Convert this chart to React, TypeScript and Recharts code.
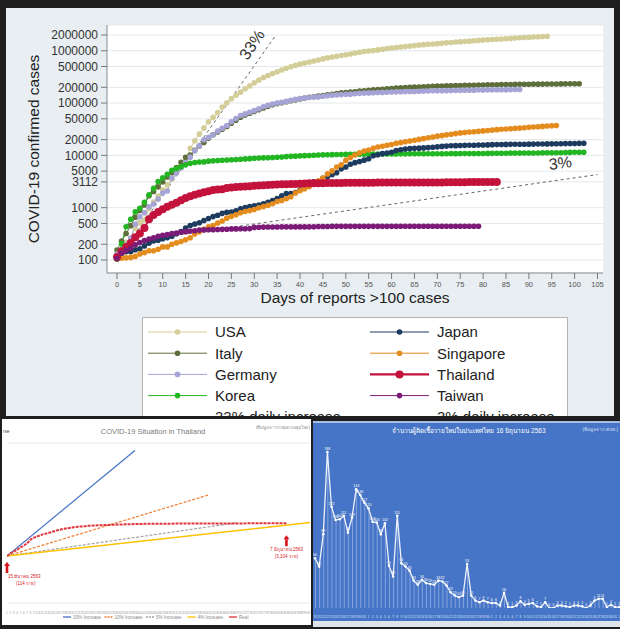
import React from 'react';
import {
  LineChart, Line, XAxis, YAxis, CartesianGrid, Legend, ReferenceDot,
  ComposedChart, Bar, LabelList,
} from 'recharts';

// ---------- Top chart: cumulative confirmed cases (log scale) ----------
const usaCases = [118,149,217,262,402,518,583,959,1281,1663,2179,2726,3499,4632,6421,7786,13680,19101,25493,33276,43847,53740,65778,83836,101657,121478,140886,161807,188172,213242,243622,275367,308850,337072,366667,396223,429052,461437,496535,526396,555313,580619,607670,636350,667801,699706,732197,759086,784326,811865,840351,869170,905333,938154,965785,988197,1012582,1039909,1069424,1103461,1132539,1158040,1180375,1204351,1229331,1257023,1283929,1309550,1329260,1347881,1369376,1390406,1417774,1442824,1467820,1486757,1508308,1528568,1551853,1577147,1600937,1622612,1643499,1662302,1680913,1699176,1721750,1746019,1770165,1790172,1811277,1831821,1851520,1872660,1897380];
const italyCases = [155,229,322,453,655,888,1128,1694,2036,2502,3089,3858,4636,5883,7375,9172,10149,12462,15113,17660,21157,24747,27980,31506,35713,41035,47021,53578,59138,63927,69176,74386,80589,86498,92472,97689,101739,105792,110574,115242,119827,124632,128948,132547,135586,139422,143626,147577,152271,156363,159516,162488,165155,168941,172434,175925,178972,181228,183957,187327,189973,192994,195351,197675,199414,201505,203591,205463,207428,209328,210717,211938,213013,214457,215858,217185,218268,219070,219814,221216,222104,223096,223885,224760,225435,225886,226699,227364,228006,228658,229327,229858,230158,230555,231139,231732,232248,232664,233019,233197,233515,233836];
const germanyCases = [130,159,196,262,482,670,799,1040,1176,1457,1908,2078,3675,4585,5795,7272,9257,12327,15320,19848,22213,24873,29056,32986,37323,43938,50871,57695,62095,66885,71808,77872,84794,91159,96092,100123,103374,107663,113296,118181,122171,124908,127854,130072,131359,134753,137698,141397,143342,145184,147065,148291,150648,153129,154999,156513,157770,158758,159912,161539,163009,164077,164967,165664,166152,167007,168162,169430,170588,171324,171879,172576,173171,174098,174478,175233,175752,176369,176551,177778,178473,179021,179710,179986,180328,180600,181200,181524,182196];
const koreaCases = [104,204,433,602,833,977,1261,1766,2337,3150,3736,4335,5186,5621,6088,6593,7041,7314,7478,7513,7755,7869,7979,8086,8162,8236,8320,8413,8565,8652,8799,8897,8961,9037,9137,9241,9332,9478,9583,9661,9786,9887,9976,10062,10156,10237,10284,10331,10384,10423,10450,10480,10512,10537,10564,10591,10613,10635,10653,10661,10674,10683,10694,10702,10708,10718,10728,10738,10752,10761,10765,10774,10780,10793,10801,10804,10806,10810,10822,10840,10874,10909,10936,10962,10991,11018,11037,11050,11065,11078,11110,11122,11142,11165,11190,11206,11225,11265,11344,11402,11441,11468,11503];
const japanCases = [105,132,144,144,157,164,186,210,230,239,254,268,284,317,349,408,455,488,514,568,620,675,716,780,814,829,873,950,1007,1046,1089,1128,1193,1268,1364,1499,1693,1866,1866,1953,2178,2495,2617,3139,3139,3654,3906,4257,4667,5530,6005,6748,7255,7645,8100,8626,9787,10296,10797,11135,11512,12368,12829,13231,13441,13614,13736,13895,14088,14281,14544,14839,15057,15231,15354,15463,15547,15589,15649,15747,15798,15874,16024,16079,16120,16203,16237,16285,16305,16367,16385,16424,16513,16536,16581,16623,16651,16719,16804,16867,16911,16986,17018];
const singaporeCases = [106,108,110,112,117,130,138,150,150,160,178,178,200,212,226,243,266,313,345,385,432,455,509,558,631,683,732,802,844,879,926,1000,1049,1114,1189,1309,1375,1481,1623,1910,2108,2299,2532,2918,3252,3699,4427,5050,5992,6588,8014,9125,10141,11178,12075,12693,13624,14423,14951,15641,16169,17101,17548,18205,18778,19410,20198,20939,21707,22460,23336,23822,24671,25346,26098,26891,27356,28038,28343,28794,29364,29812,30426,31068,31616,31960,32343,32876,33249,33860,34366,34884,35292,35836,36405,36922,37183];
const thailandCases = [114,147,177,212,272,322,411,599,721,827,934,1045,1136,1245,1388,1524,1651,1771,1875,1978,2067,2169,2220,2258,2369,2423,2473,2518,2551,2579,2613,2643,2672,2700,2733,2765,2792,2811,2826,2839,2854,2907,2922,2931,2938,2947,2954,2960,2966,2969,2987,2988,2989,2992,3000,3004,3009,3015,3017,3018,3025,3025,3025,3028,3031,3033,3034,3037,3040,3042,3042,3045,3054,3065,3076,3077,3081,3082,3083,3083,3084,3101,3102,3104];
const taiwanCases = [108,135,153,169,195,215,235,252,267,283,298,306,322,329,339,348,355,363,373,376,379,380,382,385,388,393,393,395,395,398,420,422,425,426,427,428,429,429,429,429,429,429,429,432,436,438,438,439,440,440,440,440,440,440,440,440,440,440,440,440,440,440,441,441,441,441,441,441,441,441,442,442,442,442,443,443,443,443,443,443];

const countryNames = ['USA', 'Italy', 'Germany', 'Korea', 'Japan', 'Singapore', 'Thailand', 'Taiwan'];
const countryColors = ['#d3cd97', '#5d6e3b', '#a6a3d6', '#22b622', '#1d3b5f', '#e58c1e', '#c3123c', '#7c1b77'];
const countryData = [usaCases, italyCases, germanyCases, koreaCases, japanCases, singaporeCases, thailandCases, taiwanCases];

const growth33 = [{ day: 0, cases: 100 }, { day: 34.5, cases: 1870000 }];
const growth3 = [{ day: 10, cases: 273 }, { day: 105, cases: 4300 }];

const topYTicks = [100, 200, 500, 1000, 3112, 5000, 10000, 20000, 50000, 100000, 200000, 500000, 1000000, 2000000];
const topXTicks = [0, 5, 10, 15, 20, 25, 30, 35, 40, 45, 50, 55, 60, 65, 70, 75, 80, 85, 90, 95, 100, 105];

// ---------- Bottom-left: COVID-19 Situation in Thailand (log scale) ----------
const leftNames = ['33% Increase', '10% Increase', '5% Increase', '4% Increase', 'Real'];
const leftColors = ['#4472c4', '#ed7d31', '#a5a5a5', '#ffc000', '#e0343c'];
const increase33 = [{ day: 0, cases: 114 }, { day: 38, cases: 4700000 }];
const increase10 = [{ day: 0, cases: 114 }, { day: 60, cases: 54000 }];
const increase5 = [{ day: 0, cases: 114 }, { day: 68, cases: 3200 }];
const increase4 = [{ day: 0, cases: 114 }, { day: 91, cases: 3470 }];
const leftYTicks = [1, 10, 100, 1000, 10000, 100000, 1000000, 10000000];
const leftXTicks = Array.from({ length: 91 }, (_, i) => i);

// ---------- Bottom-right: daily new cases in Thailand ----------
const thNewCases = [60,50,89,188,122,106,107,111,91,109,143,136,127,120,104,103,89,102,51,38,111,54,50,45,33,28,34,30,29,28,33,32,27,19,15,13,15,53,15,9,7,9,7,6,6,3,18,1,1,3,8,4,5,6,2,1,7,0,0,3,3,2,1,3,3,2,0,3,9,11,11,1,4,1,1];
const thDates = '19 20 21 22 23 24 25 26 27 28 29 30 31 1 2 3 4 5 6 7 8 9 10 11 12 13 14 15 16 17 18 19 20 21 22 23 24 25 26 27 28 29 30 1 2 3 4 5 6 7 8 9 10 11 12 13 14 15 16 17 18 19 20 21 22 23 24 25 26 27 28 29 30 31 1'.split(' ');

const toSeries = (vals: number[]) => vals.map((v, i) => ({ day: i, cases: v }));
const dailySeries = thNewCases.map((v, i) => ({ idx: i, cases: v }));

function TopLegend() {
  const cols = [[0, 1, 2, 3, -1], [4, 5, 6, 7, -2]];
  return (
    <svg width={426} height={118} style={{ display: 'block' }}>
      <rect x={0.5} y={0.5} width={425} height={117} fill="#fff" stroke="#b3b3b3" />
      {cols.map((col, ci) =>
        col.map((idx, ri) => {
          const lx = ci === 0 ? 6 : 228;
          const cy = 15 + ri * 21.2;
          const isRef = idx < 0;
          const color = isRef ? '#7a7a7a' : countryColors[idx];
          const label = isRef ? (idx === -1 ? '33% daily increase' : '3% daily increase') : countryNames[idx];
          const thick = !isRef && countryNames[idx] === 'Thailand';
          return (
            <g key={`${ci}-${ri}`}>
              <line x1={lx} x2={lx + 59} y1={cy} y2={cy} stroke={color} strokeWidth={thick ? 2.2 : 1}
                strokeDasharray={isRef ? '3 3' : undefined} />
              {!isRef && <circle cx={lx + 29.5} cy={cy} r={thick ? 4 : 2.8} fill={color} />}
              <text x={lx + 67} y={cy} dy="0.36em" fontSize={15} fill="#222">{label}</text>
            </g>
          );
        })
      )}
    </svg>
  );
}

function LeftLegend() {
  return (
    <svg width={200} height={8} style={{ display: 'block' }}>
      {leftNames.map((n, i) => {
        const x = i * 41.5;
        return (
          <g key={n}>
            <line x1={x} x2={x + 8} y1={4} y2={4} stroke={leftColors[i]} strokeWidth={1.3}
              strokeDasharray={i === 1 || i === 2 ? '2 1' : undefined} />
            <text x={x + 10} y={4} dy="0.35em" fontSize={4.6} fill="#8a8a8a">{n}</text>
          </g>
        );
      })}
    </svg>
  );
}

const arrowShape = (gap: number, lines: string[], anchor: 'start' | 'middle', tx: number) => (p: any) => {
  const cx = p.cx;
  const cy = p.cy;
  return (
    <g>
      <polygon points={`${cx},${cy + gap} ${cx - 3},${cy + gap + 4} ${cx + 3},${cy + gap + 4}`} fill="#d9141c" />
      <rect x={cx - 1.3} y={cy + gap + 4} width={2.6} height={7} fill="#d9141c" />
      <text x={cx + tx} y={cy + gap + 16} fontSize={4.5} fill="#d9141c" textAnchor={anchor}>{lines[0]}</text>
      <text x={cx + tx + (anchor === 'start' ? 8 : 0)} y={cy + gap + 23} fontSize={4.5} fill="#d9141c" textAnchor={anchor}>{lines[1]}</text>
    </g>
  );
};

export default function App() {
  return (
    <div style={{ position: 'absolute', left: 0, top: 0, width: 620, height: 629, background: '#1e1e1e', overflow: 'hidden', fontFamily: '"Liberation Sans", Arial, sans-serif' }}>
      {/* Top panel */}
      <div style={{ position: 'absolute', left: 6, top: 8, width: 608, height: 408, background: '#e8eef1', overflow: 'hidden' }}>
        <LineChart width={608} height={411} margin={{ top: 17, right: 11, bottom: 126, left: 0 }}>
          <CartesianGrid vertical={false} stroke="#e4e8eb" fill="#ffffff" fillOpacity={1} />
          <XAxis type="number" dataKey="day" domain={[-2.18, 106.2]} allowDataOverflow ticks={topXTicks} interval={0}
            tick={{ fontSize: 7.5, fill: '#555' }} tickSize={6} tickMargin={3} height={20}
            tickLine={{ stroke: '#7a7a7a' }} axisLine={{ stroke: '#8a8a8a' }}
            label={{ value: 'Days of reports >100 cases', position: 'bottom', offset: -1, style: { fontSize: 15.5, fill: '#222' } }} />
          <YAxis type="number" scale="log" domain={[56.4, 3110000]} allowDataOverflow ticks={topYTicks} interval={0}
            width={101} tick={{ fontSize: 12, fill: '#333' }} tickSize={6} tickMargin={3}
            tickLine={{ stroke: '#7a7a7a' }} axisLine={{ stroke: '#8a8a8a' }}
            label={{ value: 'COVID-19 confirmed cases', angle: -90, position: 'insideLeft', offset: 27, style: { fontSize: 15.5, fill: '#222', textAnchor: 'middle' } }} />
          {countryNames.map((n, i) => (
            <Line key={n} data={toSeries(countryData[i])} dataKey="cases" name={n} stroke={countryColors[i]}
              strokeWidth={n === 'Thailand' ? 2 : 1}
              dot={{ r: n === 'Thailand' ? 4 : 2.8, fill: countryColors[i], stroke: 'none' }}
              isAnimationActive={false} />
          ))}
          <Line data={growth33} dataKey="cases" name="33% daily increase" stroke="#666" strokeWidth={1}
            strokeDasharray="3 3" dot={false} isAnimationActive={false} />
          <Line data={growth3} dataKey="cases" name="3% daily increase" stroke="#666" strokeWidth={1}
            strokeDasharray="3 3" dot={false} isAnimationActive={false} />
          <ReferenceDot x={30.5} y={1150000} r={0}
            shape={(p: any) => (
              <text x={p.cx} y={p.cy} transform={`rotate(-56 ${p.cx} ${p.cy})`} fontSize={16} fill="#333" textAnchor="middle">33%</text>
            )} />
          <ReferenceDot x={97} y={5600} r={0}
            shape={(p: any) => (
              <text x={p.cx} y={p.cy} transform={`rotate(-7 ${p.cx} ${p.cy})`} fontSize={16} fill="#333" textAnchor="middle">3%</text>
            )} />
          <Legend verticalAlign="middle" align="center" layout="horizontal"
            wrapperStyle={{ left: 136, top: 309, width: 426, height: 118 }}
            content={() => <TopLegend />} />
        </LineChart>
      </div>

      {/* Bottom-left panel */}
      <div style={{ position: 'absolute', left: 2, top: 419, width: 309, height: 206, background: '#ffffff', overflow: 'hidden' }}>
        <LineChart width={311} height={206} margin={{ top: 24, right: 3, bottom: 12, left: 5 }}>
          <CartesianGrid vertical={false} stroke="#e9e9e9" />
          <XAxis type="number" dataKey="day" domain={[0, 90]} allowDataOverflow ticks={leftXTicks} interval={0}
            tickFormatter={(d: number) => String(d + 1)} tick={{ fontSize: 3.6, fill: '#aaa' }}
            axisLine={false} tickLine={false} height={10} tickMargin={2} />
          <YAxis type="number" scale="log" domain={[1, 10000000]} allowDataOverflow ticks={leftYTicks} width={0}
            tick={false} axisLine={false} tickLine={false} />
          <Line data={increase33} dataKey="cases" name={leftNames[0]} stroke={leftColors[0]} strokeWidth={1.2} dot={false} isAnimationActive={false} />
          <Line data={increase10} dataKey="cases" name={leftNames[1]} stroke={leftColors[1]} strokeWidth={1.2} strokeDasharray="3 1.5" dot={false} isAnimationActive={false} />
          <Line data={increase5} dataKey="cases" name={leftNames[2]} stroke={leftColors[2]} strokeWidth={1.2} strokeDasharray="3 1.5" dot={false} isAnimationActive={false} />
          <Line data={increase4} dataKey="cases" name={leftNames[3]} stroke={leftColors[3]} strokeWidth={1.5} dot={false} isAnimationActive={false} />
          <Line data={toSeries(thailandCases)} dataKey="cases" name={leftNames[4]} stroke={leftColors[4]} strokeWidth={2}
            strokeDasharray="3 1" dot={false} isAnimationActive={false} />
          <ReferenceDot x={0} y={114} r={0} shape={arrowShape(6, ['15 มีนาคม 2563', '(114 ราย)'], 'start', 1)} />
          <ReferenceDot x={83} y={3104} r={0} shape={arrowShape(12, ['7 มิถุนายน 2563', '(3,104 ราย)'], 'middle', 0)} />
          <Legend verticalAlign="middle" align="center" layout="horizontal"
            wrapperStyle={{ left: 61, top: 194, width: 200, height: 8 }}
            content={() => <LeftLegend />} />
        </LineChart>
        <svg width={309} height={24} style={{ position: 'absolute', left: 0, top: 0 }}>
          <text x={1} y={12} dy="0.35em" fontSize={6} fill="#555">ne</text>
          <text x={151} y={12} dy="0.35em" fontSize={7.5} fill="#7a7a7a" textAnchor="middle">COVID-19 Situation in Thailand</text>
          <text x={308} y={8} dy="0.35em" fontSize={4.5} fill="#888" textAnchor="end">(ข้อมูลจากกรมควบคุมโรค)</text>
        </svg>
      </div>

      {/* Bottom-right panel */}
      <div style={{ position: 'absolute', left: 313, top: 421, width: 307, height: 198, background: '#4674c6', borderTop: '2px solid #a9bde4', borderBottom: '6px solid #dfe4ea', overflow: 'hidden' }}>
        <ComposedChart width={307} height={196} data={dailySeries} margin={{ top: 19, right: 0, bottom: 0, left: 0 }}>
          <XAxis type="number" dataKey="idx" domain={[-0.5, 74.2]} allowDataOverflow ticks={dailySeries.map((d) => d.idx)} interval={0}
            tickFormatter={(i: number) => thDates[i]} tick={{ fontSize: 3.4, fill: '#d8e2f5' }}
            axisLine={false} tickLine={false} height={11} tickMargin={2} />
          <YAxis type="number" domain={[0, 200]} allowDataOverflow width={0} tick={false} axisLine={false} tickLine={false} />
          <Bar dataKey="cases" barSize={1} fill="#b9cbee" fillOpacity={0.55} isAnimationActive={false} />
          <Line dataKey="cases" stroke="#eef3fb" strokeWidth={1.3} dot={{ r: 1.3, fill: '#ffffff', stroke: 'none' }} isAnimationActive={false}>
            <LabelList dataKey="cases" position="top" offset={2} style={{ fontSize: 3.6, fill: '#ffffff' }} />
          </Line>
        </ComposedChart>
        <svg width={307} height={20} style={{ position: 'absolute', left: 0, top: 0 }}>
          <text x={156} y={8} dy="0.35em" fontSize={6.5} fill="#ffffff" textAnchor="middle">จำนวนผู้ติดเชื้อรายใหม่ในประเทศไทย 16 มิถุนายน 2563</text>
          <text x={305} y={6} dy="0.35em" fontSize={4.5} fill="#dbe5f7" textAnchor="end">(ข้อมูลจาก ศบค.)</text>
        </svg>
      </div>
    </div>
  );
}
